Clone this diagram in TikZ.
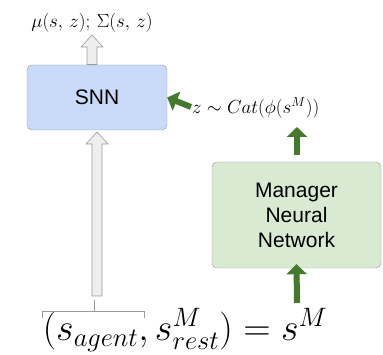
\RequirePackage{fix-cm}
\documentclass[tikz,border=0pt]{standalone}
\usepackage{fontspec}
\newfontfamily\arial{Liberation Sans}
\usetikzlibrary{calc,arrows.meta}
\definecolor{snnblue}{HTML}{C9DAF8}
\definecolor{mgrgreen}{HTML}{D9EAD3}
\definecolor{arrowgreen}{HTML}{447A2C}
\definecolor{boxgray}{HTML}{9A9A9A}
\definecolor{hollowfill}{HTML}{EEEEEE}
\tikzset{
  netbox/.style={draw=boxgray, rounded corners=5pt, font=\arial\fontsize{21}{25}\selectfont, align=center},
  greenarrow/.style={arrowgreen, line width=6pt, -{Triangle[length=10pt,width=20pt]}},
  hollow/.style={draw=boxgray, fill=hollowfill, line width=0.6pt},
  bracket/.style={draw=boxgray, line width=0.8pt}
}
% upward arrow drawn as an outlined polygon
\newcommand{\hollowup}[2]{%
  \path[hollow] let \p1=(#1), \p2=(#2) in
    (\x1-5pt,\y1) -- (\x1-5pt,\y2-12pt) -- (\x1-11pt,\y2-12pt) -- (\x1,\y2)
    -- (\x1+11pt,\y2-12pt) -- (\x1+5pt,\y2-12pt) -- (\x1+5pt,\y1) -- cycle;}
\begin{document}
\begin{tikzpicture}[x=1pt,y=-1pt]
\useasboundingbox (0,0) rectangle (383,355);
% the two networks
\node[netbox, fill=snnblue, minimum width=140pt, minimum height=65pt] (snn) at (97,97.5) {SNN};
\node[netbox, fill=mgrgreen, minimum width=169pt, minimum height=106pt] (mgr) at (296.5,215) {Manager\\Neural\\Network};
% texts
\node[font=\fontsize{19}{22}\selectfont, inner sep=0pt] (out) at (92,23) {$\mu(s,\,z);\,\Sigma(s,\,z)$};
\node[anchor=west, inner sep=0pt, font=\fontsize{19}{22}\selectfont] (cat) at (192,108) {$z\sim Cat\bigl(\phi(s^M)\bigr)$};
\node[font=\fontsize{38}{42}\selectfont, inner sep=0pt] (state) at (185,330) {$(s_{agent}, s^M_{rest}) = s^M$};
% bracket under the inputs
\coordinate (bl) at (42,318);
\coordinate (br) at (144,318);
\coordinate (bm) at (94,311);
\coordinate (bt) at (94,300);
\draw[bracket] (bl) -- (bl |- bm) -- (br |- bm) -- (br);
\draw[bracket] (bm) -- (bt);
% hollow arrows
\coordinate (inlow) at (97,296);
\coordinate (inhigh) at (97,132);
\hollowup{inlow}{inhigh}
\coordinate (outlow) at (92,64.5);
\coordinate (outhigh) at (92,35);
\hollowup{outlow}{outhigh}
% green arrows
\coordinate (zarrow) at (191,107);
\draw[greenarrow] (zarrow) -- (snn.east);
\coordinate (mtop) at (297,155);
\coordinate (ctop) at (297,127);
\draw[greenarrow] (mtop) -- (ctop);
\coordinate (sbot) at (297,303);
\draw[greenarrow] (sbot) -- ($(mgr.south)+(0,-4)$);
\end{tikzpicture}
\end{document}
